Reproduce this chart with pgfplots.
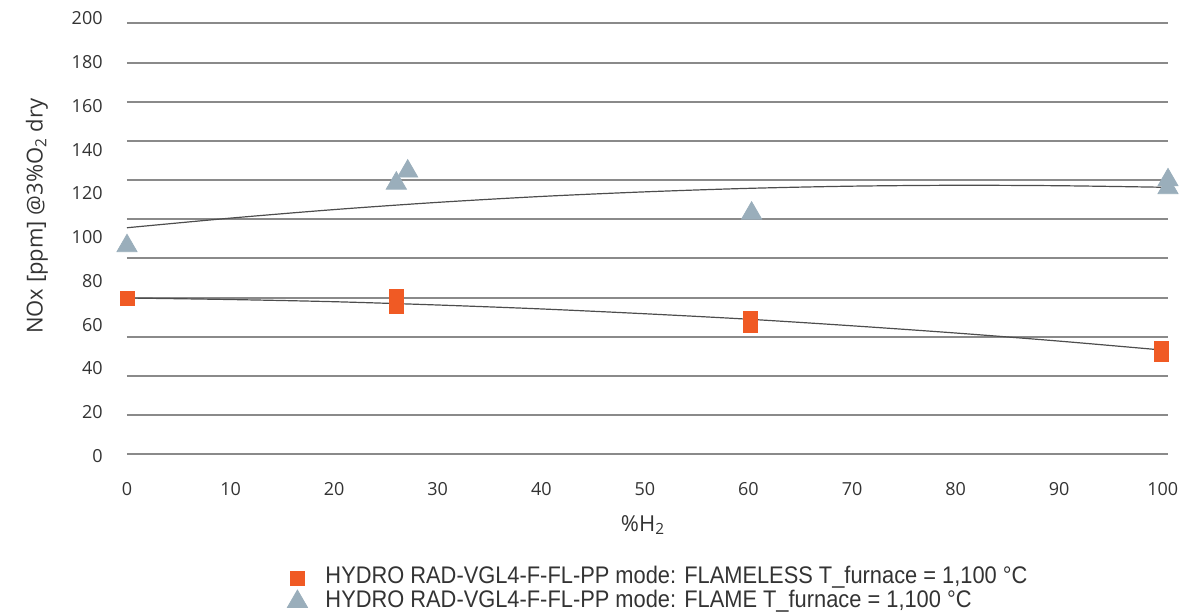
\documentclass[border=0pt]{standalone}
\usepackage{fontspec}
\setmainfont{Open Sans}
\newfontfamily\legfont[FakeStretch=0.91]{Liberation Sans}
\usepackage{pgfplots}
\pgfplotsset{compat=1.18}
\definecolor{gridc}{HTML}{8A8A8A}
\definecolor{trend}{HTML}{4D4D4D}
\definecolor{sq}{HTML}{F05A24}
\definecolor{tri}{HTML}{9AAEBB}
\definecolor{txt}{HTML}{333333}
\begin{document}
\begin{tikzpicture}
\useasboundingbox (-63.5pt,-78pt) rectangle (536.5pt,228pt);
\begin{axis}[
  at={(0pt,0pt)}, anchor=south west,
  scale only axis, width=520.5pt, height=218.85pt,
  xmin=0, xmax=100.5, ymin=0, ymax=200,
  clip=false,
  axis line style={draw=none},
  major tick length=0pt,
  xtick={0,10,...,100}, ytick={0,20,...,200},
  extra y ticks={0.8,18.7,36.6,54.5,72.4,90.3,108.2,126.1,144.0,161.9,179.8,197.7},
  extra y tick labels={},
  extra y tick style={grid=major, major grid style={gridc, line width=1pt}},
  /pgf/number format/assume math mode=true,
  ticklabel style={font=\fontsize{9}{9}\selectfont, text=txt},
  xticklabel style={anchor=north, inner sep=0pt, yshift=-13pt},
  yticklabel style={anchor=east, inner sep=0pt, xshift=-12pt},
  xlabel={\%H\textsubscript{2}},
  ylabel={NOx [ppm] @3\%O\textsubscript{2} dry},
  label style={font=\fontsize{11}{11}\selectfont, text=txt},
  xlabel style={at={(axis description cs:0.4957,-0.158)}, anchor=center},
  ylabel style={at={(axis description cs:-0.0865,0.548)}, anchor=center},
  legend style={at={(axis description cs:0.1537,-0.2513)}, anchor=north west,
    draw=none, fill=none, font=\legfont\fontsize{12}{12}\selectfont, text=txt,
    inner sep=0pt, row sep=0pt,
    nodes={inner sep=0pt, text height=8.6pt, text depth=3.15pt},
    /tikz/every odd column/.append style={column sep=9pt}},
  legend cell align=left,
  legend image code/.code={\draw[#1] plot coordinates {(0pt,0pt)};},
]
\addplot[trend, line width=0.6pt, smooth, forget plot] coordinates {
  (0,72.2) (10,71.5) (20,70.5) (30,69.0) (40,67.2) (50,65.0)
  (60,62.5) (70,59.5) (80,56.2) (90,52.5) (100,48.4)};
\addplot[trend, line width=0.6pt, smooth, forget plot] coordinates {
  (0,104.3) (10,108.7) (20,112.6) (30,115.9) (40,118.6) (50,120.7)
  (60,122.3) (70,123.3) (80,123.7) (90,123.5) (100,122.8)};
\addplot[only marks, mark=square*, mark size=3.5pt, draw=sq, fill=sq] coordinates {
  (0,72.2) (26,73.1) (26,68.5) (60.2,63.1) (60.2,59.9) (99.9,49.3) (99.9,46.2)};
\addlegendentry{HYDRO RAD-VGL4-F-FL-PP mode: FLAMELESS T\_furnace = 1,100 °C}
\addplot[only marks, mark=triangle*, mark size=5.8pt, draw=tri, fill=tri] coordinates {
  (0,96.0) (26,124.6) (27.1,130.1) (60.3,110.9) (100.5,126.1) (100.5,122.5)};
\addlegendentry{HYDRO RAD-VGL4-F-FL-PP mode: FLAME T\_furnace = 1,100 °C}
\end{axis}
\end{tikzpicture}
\end{document}
